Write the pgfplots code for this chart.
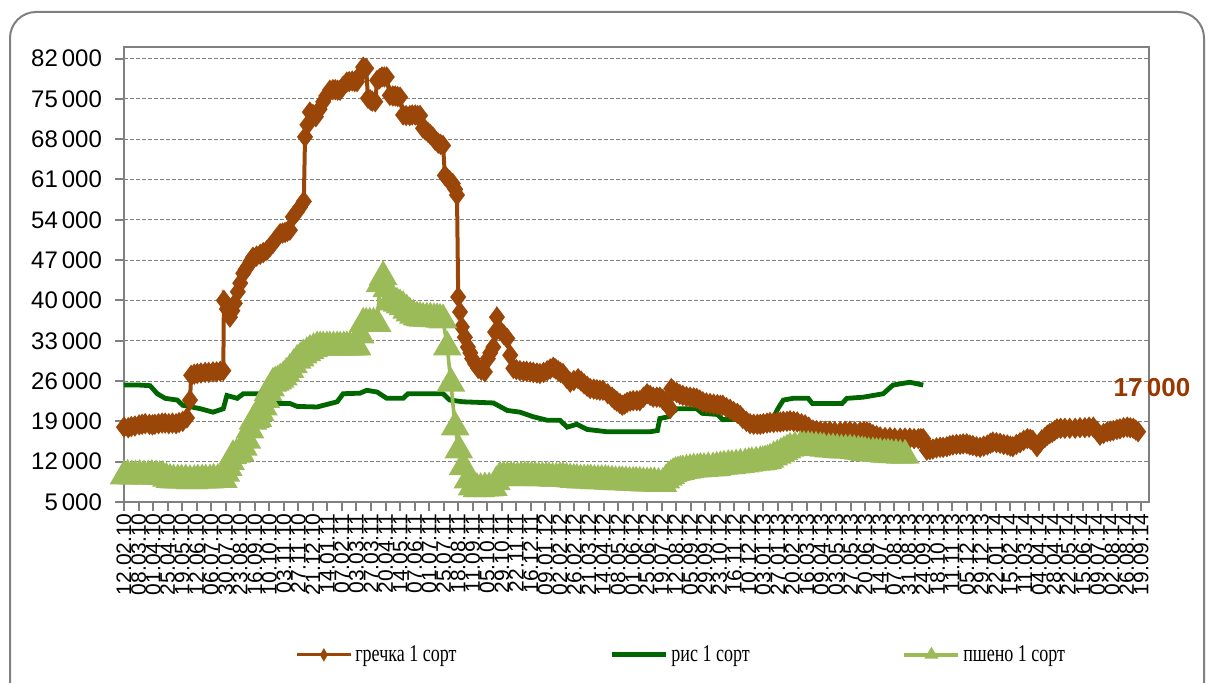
\documentclass[border=0pt]{standalone}
\usepackage{pgfplots}
\pgfplotsset{compat=1.18}
\usepackage{fontspec}
\usepackage{graphicx}
\setmainfont{Liberation Sans}
\newfontfamily\serif{Liberation Serif}
\definecolor{grech}{RGB}{153,70,8}
\definecolor{grechlab}{RGB}{153,55,0}
\definecolor{ris}{RGB}{0,102,0}
\definecolor{psh}{RGB}{155,187,89}
\definecolor{axgray}{RGB}{128,128,128}
\begin{document}
\begin{tikzpicture}
\draw[axgray, line width=1pt, rounded corners=13pt] (5pt,-20pt) rectangle (602pt,335pt);
\begin{axis}[
  at={(62pt,90pt)}, anchor=south west,
  scale only axis, width=512.5pt, height=227.5pt,
  xmin=0, xmax=1693, ymin=5000, ymax=84000,
  clip=false, scaled y ticks=false, scaled x ticks=false,
  xtick={0,24,...,1680},
  xticklabels={12.02.10,08.03.10,01.04.10,25.04.10,19.05.10,12.06.10,06.07.10,30.07.10,23.08.10,16.09.10,10.10.10,03.11.10,27.11.10,21.12.10,14.01.11,07.02.11,03.03.11,27.03.11,20.04.11,14.05.11,07.06.11,01.07.11,25.07.11,18.08.11,11.09.11,05.10.11,29.10.11,22.11.11,16.12.11,09.01.12,02.02.12,26.02.12,21.03.12,14.04.12,08.05.12,01.06.12,25.06.12,19.07.12,12.08.12,05.09.12,29.09.12,23.10.12,16.11.12,10.12.12,03.01.13,27.01.13,20.02.13,16.03.13,09.04.13,03.05.13,27.05.13,20.06.13,14.07.13,07.08.13,31.08.13,24.09.13,18.10.13,11.11.13,05.12.13,29.12.13,22.01.14,15.02.14,11.03.14,04.04.14,28.04.14,22.05.14,15.06.14,09.07.14,02.08.14,26.08.14,19.09.14},
  xticklabel style={rotate=90, anchor=east, font=\fontsize{10.5}{10.5}\selectfont, inner sep=1pt},
  ytick={5000,12000,...,82000},
  yticklabels={5\,000,12\,000,19\,000,26\,000,33\,000,40\,000,47\,000,54\,000,61\,000,68\,000,75\,000,82\,000},
  yticklabel style={font=\fontsize{12}{12}\selectfont, xshift=-3pt},
  tick align=outside, major tick length=4.5pt,
  xtick pos=bottom, ytick pos=left,
  axis line style={axgray, line width=1.1pt},
  every tick/.style={axgray, line width=1pt},
  ymajorgrids, grid style={axgray, dash pattern=on 2pt off 1pt, line width=0.5pt},
  legend columns=3,
  legend style={at={(0.1668,-0.336)}, anchor=west, draw=none, fill=none, inner sep=0pt,
    font=\serif\fontsize{12}{12}\selectfont, nodes={inner sep=1.5pt},
    /tikz/every even column/.append style={column sep=75pt}},
]
\addplot[grech, line width=2pt, mark=diamond*, mark size=3.7pt,
  legend image code/.code={\draw[grech, line width=1.5pt, mark=none] (0pt,0pt) -- (27pt,0pt); \fill[grech, mark=none] (13.5pt,-1.4pt) -- (14.3pt,0pt) -- (13.5pt,1.4pt) -- (12.7pt,0pt) -- cycle;}]
coordinates {
(0,18000)(7,17900)(12,18100)(18,18200)(25,18400)(30,18500)(35,18600)(42,18500)(47,18400)(51,18500)
(57,18600)(63,18700)(68,18700)(74,18600)(80,18700)(86,18600)(91,18800)(97,19000)(104,19600)(109,22700)
(111,27000)(116,27200)(121,27300)(127,27400)(134,27500)(140,27500)(147,27600)(153,27600)(159,27700)(164,27800)
(165,40000)(170,38500)(175,37100)(179,38200)(183,39500)(188,41500)(192,43000)(197,44700)(201,45400)(205,46000)
(209,46800)(213,47500)(219,47700)(225,48000)(230,48300)(236,48700)(241,49300)(246,49900)(252,50800)(258,51600)
(262,51700)(266,51800)(270,52000)(274,52200)(279,54500)(285,55300)(291,56200)(297,57200)(299,68400)(303,70500)
(307,72700)(312,72300)(317,71900)(323,73200)(329,74500)(334,75500)(340,76500)(345,76600)(349,76600)(353,76500)
(357,76500)(362,77200)(368,77900)(372,78000)(377,78100)(381,78000)(385,78000)(390,79200)(395,80500)(400,80300)
(403,75100)(407,74800)(410,74600)(415,74500)(418,78200)(422,78500)(426,78800)(430,78800)(434,78800)(439,75600)
(444,75500)(448,75500)(452,75400)(456,75300)(461,72200)(466,72100)(472,72100)(476,72200)(481,72200)(485,72100)
(489,72100)(494,69900)(498,69600)(502,69200)(506,68800)(510,68400)(514,67800)(519,67300)(523,67100)(527,66900)
(530,61700)(534,61200)(538,60800)(543,60300)(547,59300)(550,58300)(552,40600)(555,38000)(558,35400)(563,33600)
(568,31900)(572,30900)(575,29900)(580,29000)(585,28200)(590,27900)(596,27600)(601,29900)(605,30900)(610,31900)
(613,34500)(616,37100)(621,34800)(627,34100)(633,33400)(638,30500)(643,28200)(648,28000)(654,27800)(660,27700)
(665,27700)(671,27600)(676,27500)(682,27400)(687,27300)(693,27500)(699,27800)(704,28100)(709,28400)(713,28100)
(717,27800)(721,27500)(725,27300)(731,26500)(737,25800)(743,26100)(750,26400)(755,26000)(760,25500)(765,25100)
(770,24700)(776,24600)(781,24500)(786,24400)(791,24400)(799,23800)(806,23200)(810,22800)(814,22500)(819,22100)
(823,21800)(827,22000)(831,22300)(836,22500)(841,22600)(847,22600)(852,22600)(858,23200)(864,23800)(869,23500)
(874,23200)(880,23200)(885,23200)(890,22800)(894,22400)(898,21800)(902,21200)(904,24700)(908,24300)(913,24000)
(918,23700)(923,23500)(929,23300)(935,23200)(941,23100)(946,23000)(951,22700)(956,22400)(962,22200)(968,22100)
(974,22000)(980,21900)(985,21800)(989,21800)(995,21400)(1001,21100)(1007,20700)(1013,20400)(1018,20000)(1022,19500)
(1028,19000)(1034,18600)(1040,18500)(1046,18500)(1051,18500)(1056,18600)(1062,18700)(1067,18800)(1073,18800)(1079,18900)
(1084,18900)(1089,19000)(1095,19000)(1100,19100)(1106,19000)(1112,18900)(1119,18600)(1125,18400)(1131,18000)(1138,17500)
(1144,17400)(1150,17300)(1158,17300)(1166,17300)(1174,17200)(1183,17200)(1191,17300)(1199,17300)(1207,17200)(1216,17200)
(1222,17200)(1227,17200)(1232,17000)(1237,16700)(1243,16500)(1249,16300)(1257,16200)(1265,16200)(1273,16100)(1282,16100)
(1290,16100)(1298,16100)(1305,16000)(1312,16000)(1316,16000)(1320,16000)(1326,14000)(1331,14100)(1336,14200)(1342,14400)
(1348,14500)(1353,14500)(1359,14600)(1364,14800)(1369,14900)(1375,15000)(1381,15000)(1386,15100)(1392,15100)(1397,14900)
(1402,14800)(1408,14600)(1414,14500)(1420,14700)(1426,14900)(1431,15200)(1435,15400)(1441,15300)(1447,15200)(1453,15000)
(1459,14900)(1464,14700)(1468,14600)(1474,15000)(1480,15300)(1486,15700)(1492,16000)(1497,15900)(1501,15700)(1508,14600)
(1512,15200)(1516,15800)(1521,16200)(1525,16600)(1529,16900)(1533,17100)(1537,17400)(1541,17700)(1547,17800)(1554,17800)
(1562,17800)(1571,17800)(1579,17900)(1587,17900)(1594,18000)(1601,18000)(1607,17300)(1612,16600)(1618,16900)(1624,17200)
(1629,17300)(1634,17400)(1640,17600)(1645,17700)(1651,17900)(1657,18000)(1662,17900)(1667,17800)(1671,17500)(1675,17200)
};
\addlegendentry{\scalebox{0.75}[1]{гречка 1 сорт}}
\addplot[ris, line width=2.4pt, mark=none,
  legend image code/.code={\draw[ris, line width=2.5pt] (0pt,0pt) -- (27pt,0pt);}]
coordinates {
(0,25300)(26,25300)(43,25200)(55,23800)(68,23000)(88,22700)(97,21800)(126,21200)(147,20600)(164,21200)
(170,23500)(187,23000)(197,23800)(246,23800)(253,22100)(274,22100)(286,21600)(319,21500)(352,22400)(362,23800)
(390,23900)(401,24400)(418,24100)(434,23000)(461,23000)(469,23800)(527,23800)(538,22700)(560,22400)(610,22200)
(633,20900)(654,20600)(676,19800)(699,19200)(720,19200)(732,18000)(748,18500)(765,17600)(798,17200)(869,17200)
(881,17400)(885,19500)(899,19800)(913,21200)(946,21200)(955,20400)(980,20200)(989,19300)(1072,19500)(1080,21200)
(1089,22700)(1105,23000)(1130,23000)(1137,22100)(1186,22100)(1194,23000)(1221,23200)(1254,23800)(1270,25300)(1298,25800)
(1320,25300)
};
\addlegendentry{\scalebox{0.75}[1]{рис 1 сорт}}
\addplot[psh, line width=1.8pt, mark=triangle*, mark size=6.5pt,
  legend image code/.code={\draw[psh, line width=1.8pt, mark=none] (0pt,0pt) -- (27pt,0pt); \fill[psh, mark=none] (11.5pt,-1pt) -- (15.5pt,-1pt) -- (13.5pt,2.3pt) -- cycle;}]
coordinates {
(0,9500)(6,9600)(13,9500)(19,9500)(26,9600)(33,9500)(40,9500)(46,9600)(53,9500)(59,9400)
(64,9400)(70,9100)(76,8900)(82,8800)(89,8800)(95,8800)(102,8800)(109,8700)(116,8700)(122,8800)
(129,8800)(135,8800)(142,8800)(148,8900)(155,8900)(160,8900)(164,8900)(168,10000)(172,11000)(176,12000)
(180,13000)(186,13300)(192,13500)(197,14500)(203,15700)(208,17500)(213,19000)(217,19300)(221,19500)(225,20500)
(230,21500)(234,22800)(238,24000)(242,24800)(246,25600)(250,25800)(254,26000)(258,26300)(263,26700)(268,27300)
(274,28000)(280,28800)(286,29600)(291,30000)(296,30500)(302,30900)(307,31300)(313,31600)(319,31900)(324,31900)
(329,31900)(335,31900)(340,31900)(346,31900)(352,31900)(357,31900)(363,31900)(368,31900)(373,31900)(379,31900)
(385,31900)(390,34000)(395,36000)(400,36000)(406,36000)(412,36000)(418,36000)(423,42900)(428,44100)(434,42000)
(439,40000)(445,39700)(451,39500)(456,39200)(461,38900)(467,38300)(472,37800)(478,37400)(484,37100)(489,37000)
(494,36900)(500,36900)(506,36900)(512,36800)(517,36800)(522,36700)(527,36600)(534,31900)(540,25600)(547,18000)
(553,14000)(560,11100)(568,8800)(575,7600)(583,7300)(589,7300)(596,7400)(603,7400)(610,7500)(615,8500)
(621,9300)(627,9300)(633,9300)(639,9300)(644,9200)(650,9200)(656,9300)(662,9300)(667,9300)(673,9300)
(679,9300)(685,9200)(691,9200)(697,9200)(702,9200)(708,9100)(714,9100)(720,9200)(725,9200)(731,9100)
(737,9000)(743,8900)(748,8900)(754,8800)(760,8800)(766,8800)(771,8800)(777,8700)(783,8700)(789,8700)
(795,8700)(800,8600)(806,8600)(812,8500)(818,8500)(823,8500)(829,8500)(835,8400)(841,8400)(846,8400)
(852,8400)(858,8300)(864,8300)(870,8300)(876,8300)(883,8200)(890,8200)(895,8800)(899,9300)(903,9600)
(907,9900)(911,10100)(915,10200)(919,10300)(923,10400)(929,10500)(935,10600)(941,10700)(947,10700)(952,10800)
(958,10800)(965,10900)(973,10900)(979,11000)(985,11100)(991,11200)(998,11300)(1004,11300)(1011,11400)(1018,11500)
(1026,11600)(1032,11700)(1037,11800)(1044,11900)(1051,11950)(1055,12000)(1059,12100)(1063,12200)(1067,12400)(1073,12800)
(1079,13100)(1085,13400)(1090,13700)(1095,14000)(1100,14300)(1108,14500)(1117,14600)(1123,14600)(1130,14600)(1136,14500)
(1143,14500)(1150,14400)(1156,14300)(1164,14200)(1171,14200)(1178,14100)(1185,14000)(1192,14000)(1199,14000)(1206,13900)
(1213,13800)(1219,13700)(1224,13600)(1230,13500)(1237,13500)(1243,13400)(1249,13400)(1256,13300)(1262,13300)(1268,13200)
(1275,13200)(1282,13100)(1290,13100)
};
\addlegendentry{\scalebox{0.75}[1]{пшено 1 сорт}}
\end{axis}
\node[font=\bfseries\fontsize{13}{13}\selectfont, text=grechlab] at (576pt,147pt) {17\,000};
\pgfresetboundingbox
\useasboundingbox (0pt,0pt) rectangle (604pt,341pt);
\end{tikzpicture}
\end{document}
